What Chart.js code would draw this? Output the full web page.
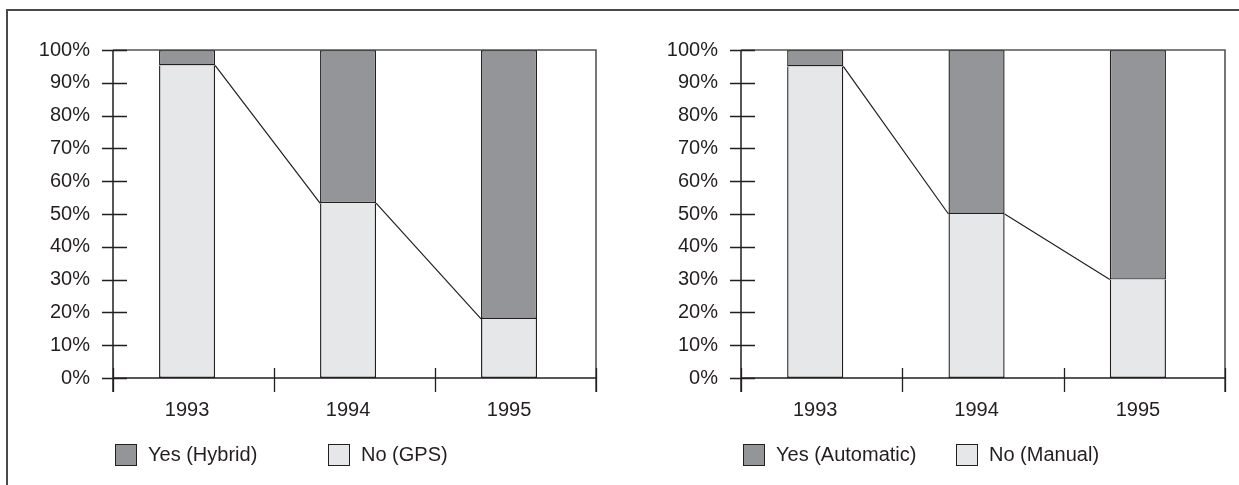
<!DOCTYPE html>
<html><head><meta charset="utf-8">
<script src="https://cdn.jsdelivr.net/npm/chart.js@4.4.0/dist/chart.umd.min.js"></script>
<style>
html,body{margin:0;padding:0;background:#fff;width:1239px;height:485px;overflow:hidden;font-family:"Liberation Sans",Arial,sans-serif;}
#frame{position:absolute;left:6px;top:9px;width:1300px;height:600px;border-left:2px solid #4a4a4a;border-top:2px solid #4a4a4a;}
.panel{position:absolute;top:0;height:485px;}
.panel canvas{position:absolute;left:0;top:0;}
.legend{position:absolute;top:443px;left:0;width:100%;height:24px;}
.item{position:absolute;top:0;height:23px;display:flex;align-items:center;white-space:nowrap;font-size:20px;color:#231f20;}
.sw{box-sizing:border-box;width:22px;height:22px;border:1.5px solid #231f20;margin-right:11px;flex:none;}
</style></head><body>
<div id="frame"></div>
<div class="panel" style="left:0;width:628px"><canvas id="c1" width="628" height="485"></canvas><div class="legend" id="l1"></div></div>
<div class="panel" style="left:628px;width:611px"><canvas id="c2" width="611" height="485"></canvas><div class="legend" id="l2"></div></div>
<script>
// ---- data ----
const years = ['1993', '1994', '1995'];
const noGPS = [95.3, 53.3, 18.0];
const yesHybrid = [4.7, 46.7, 82.0];
const noManual = [95.0, 50.0, 30.0];
const yesAutomatic = [5.0, 50.0, 70.0];
const yTickValues = [0, 10, 20, 30, 40, 50, 60, 70, 80, 90, 100];

const INK = '#231f20';
const DARK = '#939598';
const LIGHT = '#e6e7e8';
const FONT = {family: '"Liberation Sans", Arial, sans-serif', size: 20};

const decor = {
  id: 'decor',
  afterDatasetsDraw(chart) {
    const {ctx, chartArea: a, scales: {x, y}} = chart;
    ctx.save();
    // connecting line between tops of the lower ("No") bars
    const meta = chart.getDatasetMeta(0);
    ctx.strokeStyle = INK; ctx.lineWidth = 1.2;
    ctx.beginPath();
    for (let i = 0; i < meta.data.length - 1; i++) {
      const p = meta.data[i], q = meta.data[i + 1];
      ctx.moveTo(p.x + p.width / 2, p.y);
      ctx.lineTo(q.x - q.width / 2, q.y);
    }
    ctx.stroke();
    // plot frame top/right
    ctx.strokeStyle = '#555'; ctx.lineWidth = 1.6;
    ctx.beginPath();
    ctx.moveTo(a.left, a.top); ctx.lineTo(a.right, a.top); ctx.lineTo(a.right, a.bottom + 14);
    ctx.stroke();
    // axes
    ctx.strokeStyle = INK; ctx.lineWidth = 1.5;
    ctx.beginPath();
    ctx.moveTo(a.left, a.top); ctx.lineTo(a.left, a.bottom + 14);
    ctx.moveTo(a.left, a.bottom); ctx.lineTo(a.right, a.bottom);
    ctx.stroke();
    // y tick marks crossing the axis
    ctx.lineWidth = 1.3;
    ctx.beginPath();
    y.ticks.forEach(t => {
      const py = Math.round(y.getPixelForValue(t.value)) + 0.5;
      ctx.moveTo(a.left - 11, py); ctx.lineTo(a.left + 14, py);
    });
    // x category boundary marks
    for (let k = 0; k <= years.length; k++) {
      const px = Math.round(x.getPixelForValue(x.min + k)) + 0.5;
      ctx.moveTo(px, a.bottom - 10); ctx.lineTo(px, a.bottom + 14);
    }
    ctx.stroke();
    ctx.restore();
  }
};

function makeChart(canvasId, legendId, noVals, yesVals, noLabel, yesLabel, padRight) {
  const datasets = [
    {label: noLabel, data: years.map((_, i) => ({x: i, y: noVals[i]})), backgroundColor: LIGHT, borderSkipped: 'top'},
    {label: yesLabel, data: years.map((_, i) => ({x: i, y: yesVals[i]})), backgroundColor: DARK, borderSkipped: false}
  ].map(d => Object.assign(d, {borderColor: INK, borderWidth: 1.4,
       categoryPercentage: 1, barPercentage: 0.348}));
  const chart = new Chart(document.getElementById(canvasId), {
    type: 'bar',
    data: {datasets},
    options: {
      responsive: false, animation: false, devicePixelRatio: 1,
      layout: {padding: {left: 13, top: 50, right: padRight, bottom: 67}},
      plugins: {legend: {display: false}, tooltip: {enabled: false}},
      scales: {
        x: {
          type: 'linear', min: -0.46, max: 2.54, stacked: true, offset: false,
          afterBuildTicks: s => { s.ticks = years.map((_, i) => ({value: i})); },
          ticks: {callback: v => years[v], padding: 20, font: FONT, color: INK, autoSkip: false, maxRotation: 0},
          grid: {display: false, drawTicks: false, offset: false}, border: {display: false},
          afterFit: s => { s.height = 40; }
        },
        y: {
          min: 0, max: 100, stacked: true,
          afterBuildTicks: s => { s.ticks = yTickValues.map(v => ({value: v})); },
          ticks: {callback: v => v + '%', padding: 23, font: FONT, color: INK},
          grid: {display: false, drawTicks: false}, border: {display: false},
          afterFit: s => { s.width = 100; }
        }
      }
    },
    plugins: [decor]
  });
  // legend (Yes first, then No) at fixed columns
  const leg = document.getElementById(legendId);
  const left = chart.chartArea.left;
  [datasets[1], datasets[0]].forEach((d, j) => {
    const it = document.createElement('div');
    it.className = 'item';
    it.style.left = (left + 2 + j * 213) + 'px';
    const sw = document.createElement('div');
    sw.className = 'sw'; sw.style.background = d.backgroundColor;
    const tx = document.createElement('span'); tx.textContent = d.label;
    it.appendChild(sw); it.appendChild(tx); leg.appendChild(it);
  });
  return chart;
}

makeChart('c1', 'l1', noGPS, yesHybrid, 'No (GPS)', 'Yes (Hybrid)', 32);
makeChart('c2', 'l2', noManual, yesAutomatic, 'No (Manual)', 'Yes (Automatic)', 14);
</script>
</body></html>
